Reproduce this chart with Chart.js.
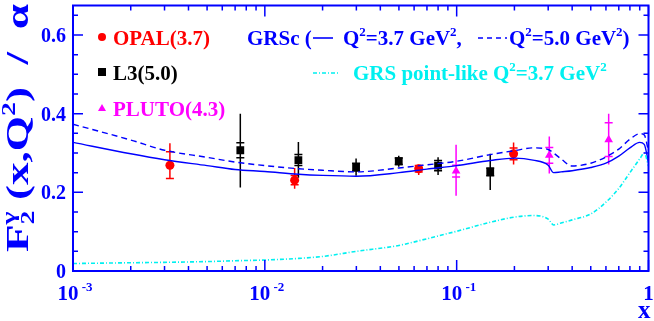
<!DOCTYPE html>
<html>
<head>
<meta charset="utf-8">
<script src="https://cdn.jsdelivr.net/npm/chart.js@4.4.1/dist/chart.umd.min.js"></script>
<style>
  html, body { margin: 0; padding: 0; background: #fff; }
</style>
</head>
<body>
<canvas id="myChart" width="654" height="321"></canvas>
<script>
'use strict';

const curveX = [0.001, 0.002, 0.003, 0.005, 0.007, 0.01, 0.015, 0.02, 0.03, 0.05, 0.07, 0.1,
  0.15, 0.2, 0.25, 0.3, 0.32, 0.35, 0.4, 0.5, 0.6, 0.7, 0.8, 0.9, 0.95, 1.0];
const grscQ37 = [0.327, 0.298, 0.283, 0.268, 0.258, 0.253, 0.246, 0.243, 0.241, 0.250, 0.259, 0.268,
  0.281, 0.287, 0.282, 0.269, 0.250, 0.252, 0.255, 0.263, 0.274, 0.292, 0.313, 0.327, 0.322, 0.275];
const grscQ50 = [0.373, 0.333, 0.307, 0.289, 0.277, 0.268, 0.260, 0.256, 0.252, 0.262, 0.270, 0.279,
  0.296, 0.306, 0.313, 0.309, 0.300, 0.285, 0.267, 0.274, 0.290, 0.310, 0.335, 0.349, 0.346, 0.304];
const grsPointLike = [0.019, 0.021, 0.022, 0.024, 0.026, 0.028, 0.032, 0.037, 0.050, 0.065, 0.082, 0.101,
  0.124, 0.137, 0.141, 0.132, 0.117, 0.122, 0.130, 0.145, 0.175, 0.210, 0.250, 0.285, 0.300, 0.267];

// measurements: x, F2/alpha, stat error (ticks), total error up/down (bar)
const opalX = [0.0032, 0.0143, 0.0634, 0.198];
const opalY = [0.269, 0.231, 0.260, 0.298];
const opalStat = [0.034, 0.012, 0.008, 0.015];
const opalUp = [0.056, 0.031, 0.011, 0.029];
const opalDn = [0.034, 0.022, 0.016, 0.027];

const l3X = [0.00745, 0.01496, 0.0299, 0.0499, 0.080, 0.1496];
const l3Y = [0.307, 0.282, 0.264, 0.279, 0.268, 0.252];
const l3Stat = [0.019, 0.014, 0.010, 0.008, 0.013, 0.010];
const l3Up = [0.093, 0.046, 0.022, 0.014, 0.021, 0.046];
const l3Dn = [0.095, 0.045, 0.022, 0.014, 0.024, 0.046];

const plutoX = [0.0993, 0.304, 0.62];
const plutoY = [0.254, 0.294, 0.334];
const plutoStat = [0.015, 0.020, 0.043];
const plutoUp = [0.067, 0.048, 0.066];
const plutoDn = [0.063, 0.046, 0.063];

const yTicks = [0, 0.2, 0.4, 0.6];
const xTickExps = [-3, -2, -1, 0];

const BLUE = '#0000ff';
const CYAN = '#00f0f0';
const RED = '#ff0000';
const MAGENTA = '#ff00ff';
const FONT = '"Liberation Serif", "Times New Roman", serif';
function font(sz) { return 'bold ' + sz + 'px ' + FONT; }

function pts(xs, ys) { return xs.map((x, i) => ({ x: x, y: ys[i] })); }

// text with super/subscripts
function drawRich(ctx, parts, x, y, size, color, measureOnly) {
  let cx = x;
  parts.forEach(p => {
    let sz = size, dy = 0;
    if (p.sup) { sz = Math.round(size * 0.62); dy = -size * 0.42; }
    if (p.sub) { sz = Math.round(size * 0.62); dy = size * 0.2; }
    ctx.font = font(sz);
    ctx.fillStyle = color;
    if (!measureOnly) ctx.fillText(p.t, cx, y + dy);
    if (!p.hold) cx += ctx.measureText(p.t).width;
  });
  return cx - x;
}

function sample(ctx, x0, x1, y, color, dash) {
  ctx.save();
  ctx.strokeStyle = color;
  ctx.lineWidth = 1.6;
  ctx.setLineDash(dash);
  ctx.beginPath(); ctx.moveTo(x0, y); ctx.lineTo(x1, y); ctx.stroke();
  ctx.restore();
}

const errorBars = {
  id: 'errorBars',
  beforeDatasetsDraw(chart) {
    const ctx = chart.ctx;
    const xs = chart.scales.x, ys = chart.scales.y;
    chart.data.datasets.forEach(ds => {
      if (!ds.errStat) return;
      ctx.save();
      ctx.strokeStyle = ds.borderColor;
      ctx.lineWidth = 1.5;
      ds.data.forEach((p, i) => {
        const px = xs.getPixelForValue(p.x);
        const top = ys.getPixelForValue(p.y + ds.errUp[i]);
        const bot = ys.getPixelForValue(p.y - ds.errDn[i]);
        ctx.beginPath();
        ctx.moveTo(px, top);
        ctx.lineTo(px, bot);
        [p.y + ds.errStat[i], p.y - ds.errStat[i]].forEach(v => {
          const py = ys.getPixelForValue(v);
          ctx.moveTo(px - 4, py);
          ctx.lineTo(px + 4, py);
        });
        ctx.stroke();
      });
      ctx.restore();
    });
  }
};

const frame = {
  id: 'frame',
  afterDraw(chart) {
    const ctx = chart.ctx;
    const a = chart.chartArea;
    const xs = chart.scales.x, ys = chart.scales.y;
    ctx.save();
    ctx.strokeStyle = BLUE;
    ctx.lineWidth = 2;
    ctx.strokeRect(a.left, a.top, a.right - a.left, a.bottom - a.top);

    // y ticks, inward on both sides
    ctx.lineWidth = 1.5;
    ctx.beginPath();
    for (let k = 0; k <= 13; k++) {
      const py = ys.getPixelForValue(k * 0.05);
      const len = (k % 4 === 0) ? 10 : 5;
      ctx.moveTo(a.left, py); ctx.lineTo(a.left + len, py);
      ctx.moveTo(a.right, py); ctx.lineTo(a.right - len, py);
    }
    // log x ticks, inward top and bottom
    for (let e = -3; e <= 0; e++) {
      for (let m = 1; m <= 9; m++) {
        const v = m * Math.pow(10, e);
        if (v > 1.0001) break;
        const px = xs.getPixelForValue(v);
        const len = (m === 1) ? 11 : 5;
        ctx.moveTo(px, a.bottom); ctx.lineTo(px, a.bottom - len);
        ctx.moveTo(px, a.top); ctx.lineTo(px, a.top + len);
      }
    }
    ctx.stroke();

    // y tick labels
    ctx.fillStyle = BLUE;
    ctx.font = font(20);
    ctx.textAlign = 'right';
    yTicks.forEach(v => {
      ctx.fillText(String(v), a.left - 7, ys.getPixelForValue(v) + 7);
    });
    ctx.textAlign = 'left';

    // x tick labels 10^n
    xTickExps.forEach(e => {
      const px = xs.getPixelForValue(Math.pow(10, e));
      const parts = e === 0 ? [{ t: '1' }] : [{ t: '10' }, { t: ' ' + e, sup: true }];
      const w = drawRich(ctx, parts, 0, 0, 21, BLUE, true);
      drawRich(ctx, parts, px - w / 2 + (e === 0 ? 0 : 2), 300, 21, BLUE);
    });
    ctx.font = font(25);
    ctx.fillText('x', 638, 318);

    // y title, rotated
    ctx.save();
    ctx.translate(28, 128);
    ctx.rotate(-Math.PI / 2);
    const tParts = [{ t: 'F' }, { t: '2', sub: true, hold: true }, { t: 'γ', sup: true }, { t: ' (x,Q' },
      { t: '2', sup: true }, { t: ')  /  α' }];
    const tw = drawRich(ctx, tParts, 0, 0, 31, BLUE, true);
    ctx.scale(Math.max(1, 248 / tw), 1);
    drawRich(ctx, tParts, -tw / 2, 0, 31, BLUE);
    ctx.restore();

    // legend: experiments
    const lx = 102;
    ctx.fillStyle = RED;
    ctx.beginPath(); ctx.arc(lx, 37, 4, 0, Math.PI * 2); ctx.fill();
    ctx.fillStyle = '#000';
    ctx.fillRect(lx - 4, 68, 8, 8);
    ctx.fillStyle = MAGENTA;
    ctx.beginPath(); ctx.moveTo(lx, 104); ctx.lineTo(lx + 4, 111); ctx.lineTo(lx - 4, 111); ctx.closePath(); ctx.fill();
    drawRich(ctx, [{ t: 'OPAL(3.7)' }], 113, 45, 21, RED);
    drawRich(ctx, [{ t: 'L3(5.0)' }], 113, 80, 21, '#000');
    drawRich(ctx, [{ t: 'PLUTO(4.3)' }], 113, 116, 21, MAGENTA);

    // legend: theory
    drawRich(ctx, [{ t: 'GRSc (' }], 247, 45, 21, BLUE);
    sample(ctx, 313, 333, 38, BLUE, []);
    drawRich(ctx, [{ t: 'Q' }, { t: '2', sup: true }, { t: '=3.7 GeV' }, { t: '2', sup: true }, { t: ',' }],
      343, 45, 21, BLUE);
    sample(ctx, 478, 507, 38, BLUE, [5, 4]);
    drawRich(ctx, [{ t: 'Q' }, { t: '2', sup: true }, { t: '=5.0 GeV' }, { t: '2', sup: true }, { t: ')' }],
      509, 45, 21, BLUE);
    sample(ctx, 313, 338, 73, CYAN, [4, 2, 1, 2]);
    drawRich(ctx, [{ t: 'GRS point-like Q' }, { t: '2', sup: true }, { t: '=3.7 GeV' }, { t: '2', sup: true }],
      353, 80, 21, CYAN);
    ctx.restore();
  }
};

const ctx = document.getElementById('myChart').getContext('2d');
const myChart = new Chart(ctx, {
  type: 'scatter',
  data: {
    datasets: [
      {
        label: 'GRS point-like',
        data: pts(curveX, grsPointLike),
        showLine: true, borderColor: CYAN, borderWidth: 1.6, borderDash: [4, 2, 1, 2],
        pointRadius: 0, cubicInterpolationMode: 'monotone'
      },
      {
        label: 'GRSc Q2=5.0',
        data: pts(curveX, grscQ50),
        showLine: true, borderColor: BLUE, borderWidth: 1.4, borderDash: [6, 4],
        pointRadius: 0, cubicInterpolationMode: 'monotone'
      },
      {
        label: 'GRSc Q2=3.7',
        data: pts(curveX, grscQ37),
        showLine: true, borderColor: BLUE, borderWidth: 1.4,
        pointRadius: 0, cubicInterpolationMode: 'monotone'
      },
      {
        label: 'OPAL(3.7)',
        data: pts(opalX, opalY),
        borderColor: RED, backgroundColor: RED, pointStyle: 'circle', pointRadius: 4.5, pointBorderWidth: 0,
        errStat: opalStat, errUp: opalUp, errDn: opalDn
      },
      {
        label: 'L3(5.0)',
        data: pts(l3X, l3Y),
        borderColor: '#000', backgroundColor: '#000', pointStyle: 'rect', pointRadius: 5.5, pointBorderWidth: 0,
        errStat: l3Stat, errUp: l3Up, errDn: l3Dn
      },
      {
        label: 'PLUTO(4.3)',
        data: pts(plutoX, plutoY),
        borderColor: MAGENTA, backgroundColor: MAGENTA, pointStyle: 'triangle', pointRadius: 5, pointBorderWidth: 0,
        errStat: plutoStat, errUp: plutoUp, errDn: plutoDn
      }
    ]
  },
  options: {
    responsive: false,
    animation: false,
    layout: { padding: { left: 73, right: 5, top: 3, bottom: 50 } },
    scales: {
      x: { type: 'logarithmic', min: 0.001, max: 1, display: false },
      y: { type: 'linear', min: 0, max: 0.675, display: false }
    },
    plugins: { legend: { display: false }, tooltip: { enabled: false } }
  },
  plugins: [errorBars, frame]
});
</script>
</body>
</html>
